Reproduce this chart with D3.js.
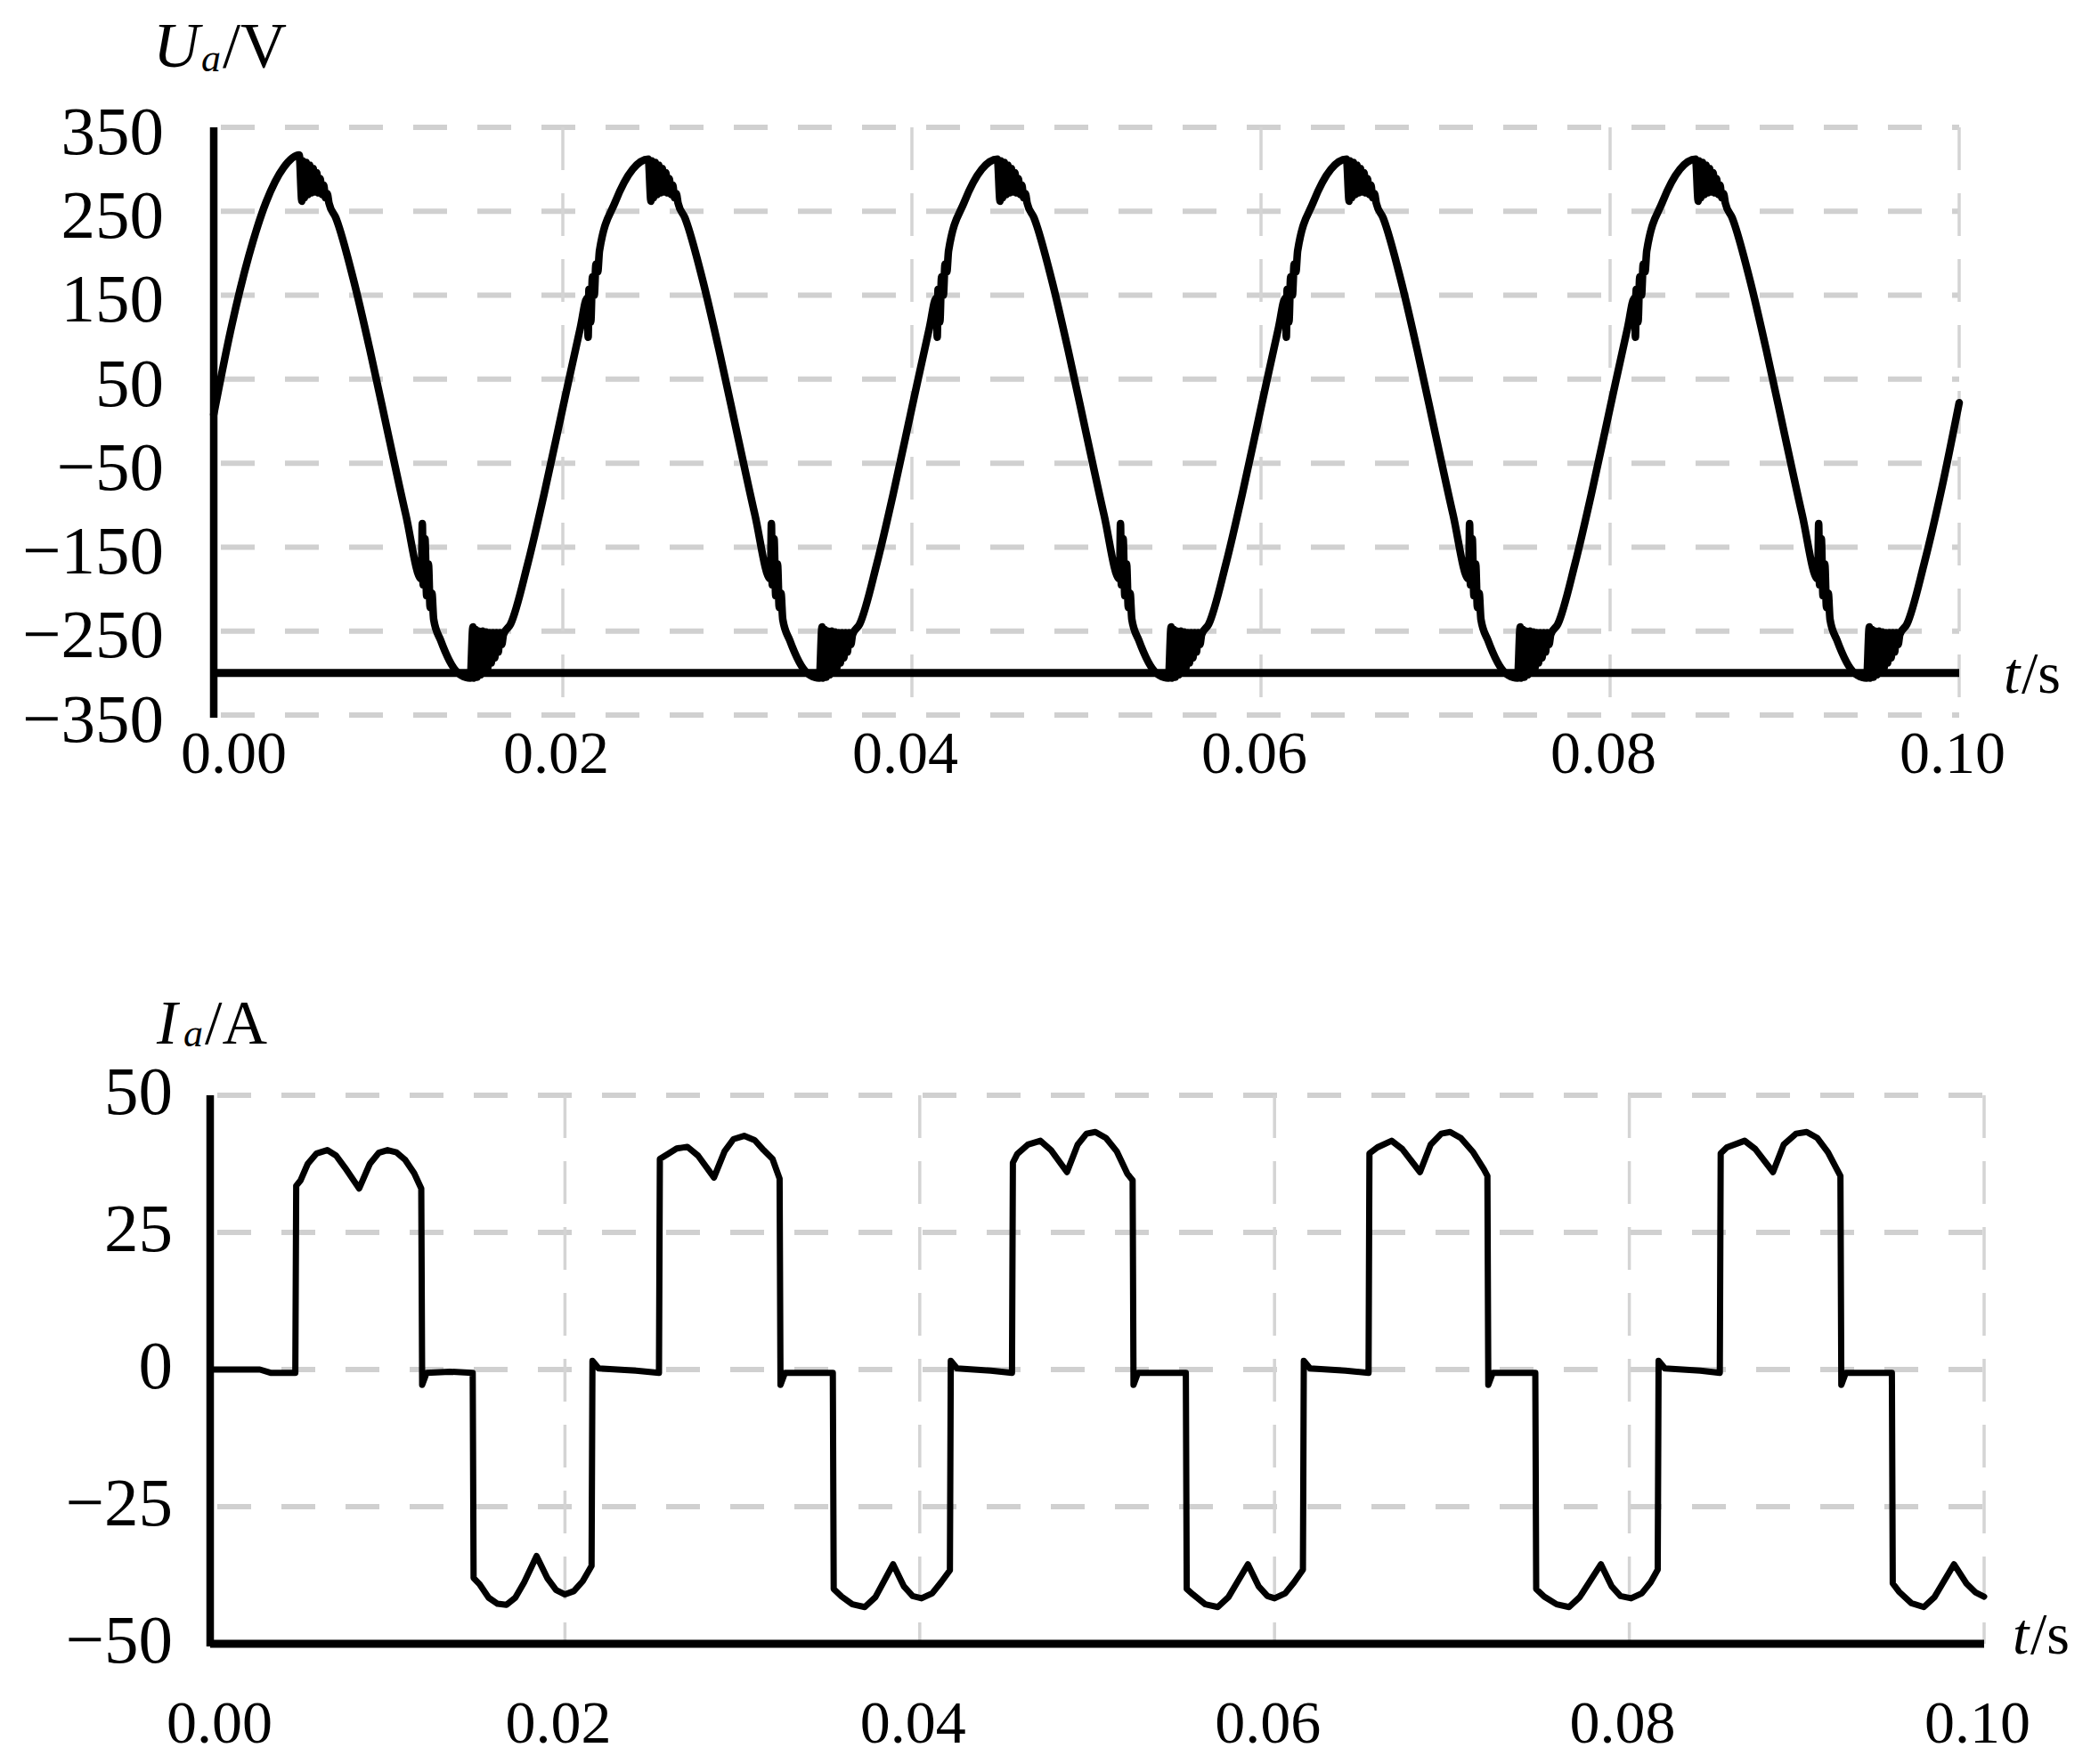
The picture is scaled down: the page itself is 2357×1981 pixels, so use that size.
<!DOCTYPE html>
<html><head><meta charset="utf-8">
<script src="https://cdn.jsdelivr.net/npm/d3@7"></script>
<style>
html,body{margin:0;padding:0;background:#fff;}
svg{display:block;}
text{font-family:"Liberation Serif","Times New Roman",serif;fill:#000;}
</style></head><body>
<svg id="chart" width="2357" height="1981"></svg>
<script>
// ---------- data ----------
const timeTicks = [0, 0.02, 0.04, 0.06, 0.08, 0.10];
const voltageTicks = [350, 250, 150, 50, -50, -150, -250, -350];
const currentTicks = [50, 25, 0, -25, -50];
const voltageAxisBase = -300;
const currentAxisBase = -50;

// phase voltage Ua (V) vs time (s)
const voltage = [
 // cycle 1
 [0.000,8],[0.001,111],[0.002,196],[0.003,261],[0.004,302],[0.0049,317],
 [0.00505,262],[0.0051,310],[0.0052,266],[0.0053,308],[0.0054,270],[0.0055,305],[0.0056,272],[0.0057,301],[0.0058,273],[0.0059,296],[0.0060,272],[0.0061,289],[0.0062,270],[0.0063,281],[0.0064,266],[0.0065,271],[0.0066,260],
 [0.007,242],[0.008,169],[0.009,80],[0.010,-16],[0.011,-111],[0.0119,-188],
 [0.01195,-122],[0.0120,-195],[0.0121,-140],[0.0122,-208],[0.0123,-170],[0.0124,-222],[0.0125,-205],[0.0126,-236],
 [0.013,-261],[0.014,-300],[0.0147,-306],
 [0.01485,-245],[0.0149,-306],[0.0150,-248],[0.0151,-305],[0.0152,-250],[0.0153,-302],[0.0154,-250],[0.0155,-299],[0.0156,-251],[0.0157,-294],[0.0158,-252],[0.0159,-288],[0.0160,-252],[0.0161,-282],[0.0162,-252],[0.0163,-275],[0.0164,-252],[0.0165,-266],[0.0166,-254],
 [0.017,-242],[0.018,-169],[0.019,-80],
 // cycle 2
 [0.020,16],[0.021,111],
 [0.0214,147],[0.02145,100],[0.0215,157],[0.0216,118],[0.0217,172],[0.0218,150],[0.0219,187],[0.0220,178],[0.0221,203],
 [0.023,261],[0.024,300],[0.0249,312],
 [0.02505,262],[0.0251,310],[0.0252,266],[0.0253,308],[0.0254,270],[0.0255,305],[0.0256,272],[0.0257,301],[0.0258,273],[0.0259,296],[0.0260,272],[0.0261,289],[0.0262,270],[0.0263,281],[0.0264,266],[0.0265,271],[0.0266,260],
 [0.027,242],[0.028,169],[0.029,80],[0.030,-16],[0.031,-111],[0.0319,-188],
 [0.03195,-122],[0.0320,-195],[0.0321,-140],[0.0322,-208],[0.0323,-170],[0.0324,-222],[0.0325,-205],[0.0326,-236],
 [0.033,-261],[0.034,-300],[0.0347,-306],
 [0.03485,-245],[0.0349,-306],[0.0350,-248],[0.0351,-305],[0.0352,-250],[0.0353,-302],[0.0354,-250],[0.0355,-299],[0.0356,-251],[0.0357,-294],[0.0358,-252],[0.0359,-288],[0.0360,-252],[0.0361,-282],[0.0362,-252],[0.0363,-275],[0.0364,-252],[0.0365,-266],[0.0366,-254],
 [0.037,-242],[0.038,-169],[0.039,-80],
 // cycle 3
 [0.040,16],[0.041,111],
 [0.0414,147],[0.04145,100],[0.0415,157],[0.0416,118],[0.0417,172],[0.0418,150],[0.0419,187],[0.0420,178],[0.0421,203],
 [0.043,261],[0.044,300],[0.0449,312],
 [0.04505,262],[0.0451,310],[0.0452,266],[0.0453,308],[0.0454,270],[0.0455,305],[0.0456,272],[0.0457,301],[0.0458,273],[0.0459,296],[0.0460,272],[0.0461,289],[0.0462,270],[0.0463,281],[0.0464,266],[0.0465,271],[0.0466,260],
 [0.047,242],[0.048,169],[0.049,80],[0.050,-16],[0.051,-111],[0.0519,-188],
 [0.05195,-122],[0.0520,-195],[0.0521,-140],[0.0522,-208],[0.0523,-170],[0.0524,-222],[0.0525,-205],[0.0526,-236],
 [0.053,-261],[0.054,-300],[0.0547,-306],
 [0.05485,-245],[0.0549,-306],[0.0550,-248],[0.0551,-305],[0.0552,-250],[0.0553,-302],[0.0554,-250],[0.0555,-299],[0.0556,-251],[0.0557,-294],[0.0558,-252],[0.0559,-288],[0.0560,-252],[0.0561,-282],[0.0562,-252],[0.0563,-275],[0.0564,-252],[0.0565,-266],[0.0566,-254],
 [0.057,-242],[0.058,-169],[0.059,-80],
 // cycle 4
 [0.060,16],[0.061,111],
 [0.0614,147],[0.06145,100],[0.0615,157],[0.0616,118],[0.0617,172],[0.0618,150],[0.0619,187],[0.0620,178],[0.0621,203],
 [0.063,261],[0.064,300],[0.0649,312],
 [0.06505,262],[0.0651,310],[0.0652,266],[0.0653,308],[0.0654,270],[0.0655,305],[0.0656,272],[0.0657,301],[0.0658,273],[0.0659,296],[0.0660,272],[0.0661,289],[0.0662,270],[0.0663,281],[0.0664,266],[0.0665,271],[0.0666,260],
 [0.067,242],[0.068,169],[0.069,80],[0.070,-16],[0.071,-111],[0.0719,-188],
 [0.07195,-122],[0.0720,-195],[0.0721,-140],[0.0722,-208],[0.0723,-170],[0.0724,-222],[0.0725,-205],[0.0726,-236],
 [0.073,-261],[0.074,-300],[0.0747,-306],
 [0.07485,-245],[0.0749,-306],[0.0750,-248],[0.0751,-305],[0.0752,-250],[0.0753,-302],[0.0754,-250],[0.0755,-299],[0.0756,-251],[0.0757,-294],[0.0758,-252],[0.0759,-288],[0.0760,-252],[0.0761,-282],[0.0762,-252],[0.0763,-275],[0.0764,-252],[0.0765,-266],[0.0766,-254],
 [0.077,-242],[0.078,-169],[0.079,-80],
 // cycle 5
 [0.080,16],[0.081,111],
 [0.0814,147],[0.08145,100],[0.0815,157],[0.0816,118],[0.0817,172],[0.0818,150],[0.0819,187],[0.0820,178],[0.0821,203],
 [0.083,261],[0.084,300],[0.0849,312],
 [0.08505,262],[0.0851,310],[0.0852,266],[0.0853,308],[0.0854,270],[0.0855,305],[0.0856,272],[0.0857,301],[0.0858,273],[0.0859,296],[0.0860,272],[0.0861,289],[0.0862,270],[0.0863,281],[0.0864,266],[0.0865,271],[0.0866,260],
 [0.087,242],[0.088,169],[0.089,80],[0.090,-16],[0.091,-111],[0.0919,-188],
 [0.09195,-122],[0.0920,-195],[0.0921,-140],[0.0922,-208],[0.0923,-170],[0.0924,-222],[0.0925,-205],[0.0926,-236],
 [0.093,-261],[0.094,-300],[0.0947,-306],
 [0.09485,-245],[0.0949,-306],[0.0950,-248],[0.0951,-305],[0.0952,-250],[0.0953,-302],[0.0954,-250],[0.0955,-299],[0.0956,-251],[0.0957,-294],[0.0958,-252],[0.0959,-288],[0.0960,-252],[0.0961,-282],[0.0962,-252],[0.0963,-275],[0.0964,-252],[0.0965,-266],[0.0966,-254],
 [0.097,-242],[0.098,-169],[0.099,-80],[0.100,22]
];

// phase current Ia (A) vs time (s)
const current = [
 [0,0],[0.0028,0],[0.0034,-0.6],[0.0048,-0.6],[0.00485,33.5],[0.0051,34.5],[0.0055,37.5],[0.0060,39.4],[0.0066,40],[0.0071,39],[0.0076,36.8],[0.0084,33],
 [0.0090,37.5],[0.0095,39.5],[0.0100,40],[0.0105,39.6],[0.0110,38.2],[0.0115,35.8],[0.0119,33],[0.01195,-2.8],[0.0122,-0.6],[0.0135,-0.4],[0.0148,-0.6],
 [0.01485,-38],[0.0152,-39.2],[0.0157,-41.6],[0.0162,-42.7],[0.0167,-42.9],[0.0172,-41.6],[0.0177,-38.8],[0.0184,-34],
 [0.0190,-38],[0.0195,-40.2],[0.0200,-41],[0.0205,-40.4],[0.0210,-38.6],[0.0215,-35.8],[0.02155,1.6],[0.0219,0.2],[0.0240,-0.2],[0.0253,-0.6],
 [0.02535,38.4],[0.0258,39.3],[0.0263,40.3],[0.0269,40.6],[0.0275,39],[0.0284,35],[0.0290,39.8],[0.0295,42],[0.0301,42.6],[0.0307,41.8],[0.0312,40],[0.0317,38.4],[0.0321,34.8],
 [0.03215,-2.8],[0.0324,-0.6],[0.0351,-0.6],
 [0.03515,-40],[0.0356,-41.4],[0.0362,-42.8],[0.0369,-43.3],[0.0375,-41.5],[0.0385,-35.5],[0.0391,-39.5],[0.0396,-41.3],[0.0401,-41.7],[0.0407,-40.8],[0.0412,-38.8],[0.0417,-36.6],
 [0.04175,1.6],[0.0421,0.2],[0.0440,-0.2],[0.0452,-0.6],
 [0.04525,37.7],[0.0455,39.3],[0.0461,41],[0.0468,41.7],[0.0474,40],[0.0483,36],[0.0489,41],[0.0494,43],[0.0499,43.3],[0.0505,42.2],[0.0511,39.8],[0.0517,35.7],[0.0520,34.5],
 [0.05205,-2.8],[0.0523,-0.6],[0.0550,-0.6],
 [0.05505,-40],[0.0554,-41],[0.0561,-42.8],[0.0568,-43.3],[0.0574,-41.5],[0.0585,-35.5],[0.0591,-39.5],[0.0596,-41.3],[0.0600,-41.7],[0.0606,-40.8],[0.0611,-38.8],[0.0616,-36.5],
 [0.06165,1.6],[0.0620,0.2],[0.0640,-0.2],[0.0653,-0.6],
 [0.06535,39.4],[0.0658,40.5],[0.0666,41.7],[0.0672,40.2],[0.0682,36],[0.0688,41],[0.0694,43],[0.0699,43.3],[0.0705,42.2],[0.0712,39.6],[0.0718,36.5],[0.0720,35.3],
 [0.07205,-2.8],[0.0723,-0.6],[0.0747,-0.6],
 [0.07475,-40],[0.0752,-41.4],[0.0759,-42.8],[0.0766,-43.3],[0.0772,-41.5],[0.0784,-35.5],[0.0790,-39.5],[0.0795,-41.3],[0.0801,-41.7],[0.0807,-40.8],[0.0812,-38.8],[0.0816,-36.5],
 [0.08165,1.6],[0.0820,0.2],[0.0840,-0.2],[0.0851,-0.6],
 [0.08515,39.4],[0.0855,40.5],[0.0865,41.7],[0.0871,40.2],[0.0881,36],[0.0887,41],[0.0894,43],[0.0900,43.3],[0.0906,42.2],[0.0912,39.6],[0.0917,36.5],[0.0919,35.3],
 [0.09195,-2.8],[0.0922,-0.6],[0.0948,-0.6],
 [0.09485,-39],[0.0952,-40.5],[0.0959,-42.6],[0.0966,-43.3],[0.0972,-41.5],[0.0983,-35.5],[0.0990,-39],[0.0995,-40.6],[0.1000,-41.4]
];

// ---------- drawing ----------
const svg = d3.select("#chart");
svg.append("rect").attr("width",2357).attr("height",1981).attr("fill","#fff");

const xU = d3.scaleLinear().domain([0, 0.1]).range([240, 2200]);
const yU = d3.scaleLinear().domain([-350, 350]).range([803, 143]);
const xI = d3.scaleLinear().domain([0, 0.1]).range([236, 2228]);
const yI = d3.scaleLinear().domain([-50, 50]).range([1846, 1230]);

const SERIF = '"Liberation Serif","Times New Roman",serif';

function panel(cfg){
  const {x, y, yTicks, base, data, curve, lw, yPad, yDy, xLabelY, firstDx} = cfg;
  const g = svg.append("g");
  const [yMin, yMax] = y.domain();

  // horizontal dashed grid
  g.append("g").selectAll("line").data(yTicks).join("line")
    .attr("x1", x(0) + 8).attr("x2", x(0.1))
    .attr("y1", d => y(d)).attr("y2", d => y(d))
    .attr("stroke", "#d0d0d0").attr("stroke-width", 6)
    .attr("stroke-dasharray", "38,34");

  // vertical dashed grid
  g.append("g").selectAll("line").data(timeTicks.filter(t => t > 0)).join("line")
    .attr("x1", d => x(d)).attr("x2", d => x(d))
    .attr("y1", y(yMax)).attr("y2", y(yMin))
    .attr("stroke", "#d4d4d4").attr("stroke-width", 3.5)
    .attr("stroke-dasharray", "48,26");

  // waveform
  const line = d3.line().x(d => x(d[0])).y(d => y(d[1])).curve(curve);
  g.append("path").datum(data).attr("d", line)
    .attr("fill", "none").attr("stroke", "#000").attr("stroke-width", lw)
    .attr("stroke-linejoin", "round").attr("stroke-linecap", "round");

  // axis lines
  g.append("line").attr("x1", x(0)).attr("x2", x(0))
    .attr("y1", y(yMax)).attr("y2", y(yMin) + 3)
    .attr("stroke", "#000").attr("stroke-width", 8.5);
  g.append("line").attr("x1", x(0)).attr("x2", x(0.1))
    .attr("y1", y(base)).attr("y2", y(base))
    .attr("stroke", "#000").attr("stroke-width", 9);

  // y tick labels
  const ya = g.append("g").attr("transform", `translate(${x(0)},0)`)
    .call(d3.axisLeft(y).tickValues(yTicks).tickSize(0).tickPadding(yPad).tickFormat(d3.format("d")));
  ya.select(".domain").remove();
  ya.attr("font-family", SERIF).attr("font-size", 77);
  ya.selectAll("text").attr("dy", yDy).attr("fill", "#000");

  // x tick labels
  const xa = g.append("g").attr("transform", `translate(0,${y(base)})`)
    .call(d3.axisBottom(x).tickValues(timeTicks).tickSize(0).tickFormat(d3.format(".2f")));
  xa.select(".domain").remove();
  xa.attr("font-family", SERIF).attr("font-size", 68);
  xa.selectAll("text").attr("y", xLabelY).attr("dy", 0).attr("fill", "#000")
    .attr("dx", (d, i) => i === 0 ? firstDx : -8);
  return g;
}

panel({x: xU, y: yU, yTicks: voltageTicks, base: voltageAxisBase, data: voltage,
  curve: d3.curveMonotoneX, lw: 8.5, yPad: 56, yDy: "0.38em", xLabelY: 112, firstDx: 22});
panel({x: xI, y: yI, yTicks: currentTicks, base: currentAxisBase, data: current,
  curve: d3.curveLinear, lw: 7, yPad: 42, yDy: "0.26em", xLabelY: 111, firstDx: 10});

// axis titles
function title(yb, parts){
  const t = svg.append("text").attr("y", yb).attr("font-family", SERIF);
  parts.forEach(p => {
    const s = t.append("tspan").attr("x", p.x).attr("y", yb + (p.dy || 0))
      .attr("font-size", p.size).text(p.text);
    if (p.italic) s.attr("font-style", "italic");
  });
}
title(75, [
  {x: 172, text: "U", size: 72, italic: true},
  {x: 226, text: "a", size: 44, italic: true, dy: 5},
  {x: 250, text: "/V", size: 72}
]);
title(1172, [
  {x: 176, text: "I", size: 70, italic: true},
  {x: 206, text: "a", size: 44, italic: true, dy: 3},
  {x: 230, text: "/A", size: 70}
]);
title(778, [
  {x: 2250, text: "t", size: 66, italic: true},
  {x: 2270, text: "/s", size: 66}
]);
title(1857, [
  {x: 2260, text: "t", size: 66, italic: true},
  {x: 2280, text: "/s", size: 66}
]);
</script>
</body></html>
